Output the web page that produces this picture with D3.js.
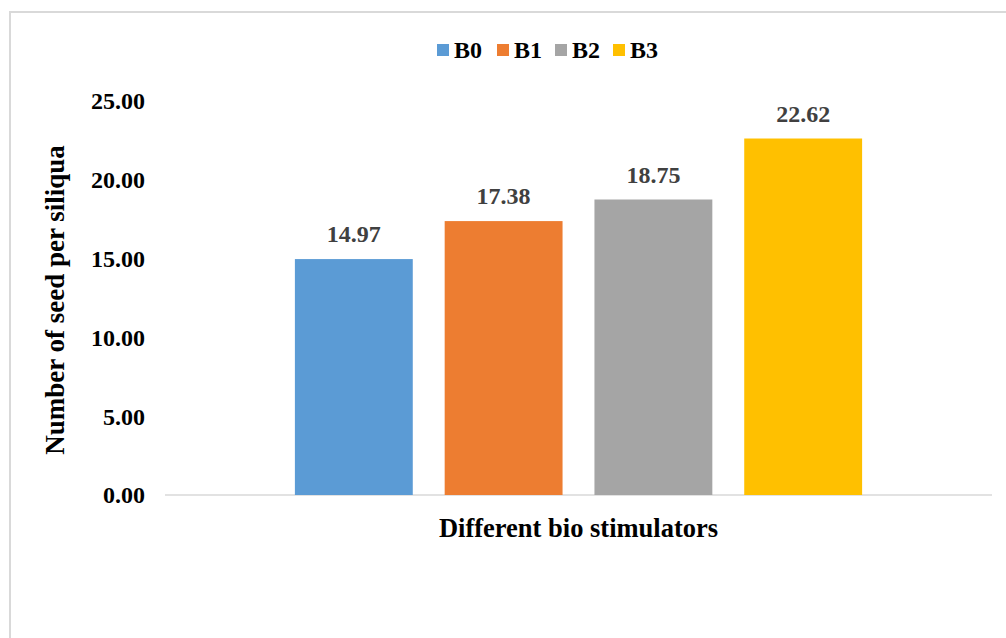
<!DOCTYPE html>
<html>
<head>
<meta charset="utf-8">
<script src="https://cdn.jsdelivr.net/npm/d3@7/dist/d3.min.js"></script>
<style>
  html, body { margin: 0; padding: 0; background: #fff; }
  svg { display: block; }
  text { font-family: "Liberation Serif", "Times New Roman", serif; font-weight: bold; }
</style>
</head>
<body>
<svg id="chart" width="1006" height="638"></svg>
<script>
const categories = ["Different bio stimulators"];
const seriesNames = ["B0", "B1", "B2", "B3"];
const seriesValues = [14.97, 17.38, 18.75, 22.62];
const seriesColors = ["#5b9bd5", "#ed7d31", "#a5a5a5", "#ffc000"];
const yTicks = [0, 5, 10, 15, 20, 25];
const yTitle = "Number of seed per siliqua";

const svg = d3.select("#chart");

// outer frame
svg.append("rect")
  .attr("x", 10).attr("y", 12)
  .attr("width", 1100).attr("height", 700)
  .attr("fill", "none").attr("stroke", "#d9d9d9").attr("stroke-width", 2);

const plot = { left: 165, right: 992, top: 101, bottom: 495 };

const y = d3.scaleLinear().domain([0, 25]).range([plot.bottom, plot.top]);
const x0 = d3.scaleBand().domain(categories).range([plot.left, plot.right])
  .paddingInner(0).paddingOuter(0.229);
const x1 = d3.scaleBand().domain(seriesNames).range([0, x0.bandwidth()]).paddingInner(0.213);

// y tick labels
const yAxis = d3.axisLeft(y).tickValues(yTicks).tickFormat(d3.format(".2f")).tickSize(0).tickPadding(0);
const yg = svg.append("g").attr("transform", `translate(145,0)`).call(yAxis);
yg.select(".domain").remove();
yg.selectAll("text").attr("font-size", 24).attr("fill", "#000")
  .attr("font-family", "Liberation Serif, serif").attr("font-weight", "bold")
  .attr("dy", "0.33em");

// baseline
svg.append("line")
  .attr("x1", plot.left).attr("x2", plot.right)
  .attr("y1", y(0)).attr("y2", y(0))
  .attr("stroke", "#d9d9d9").attr("stroke-width", 1.5);

// bars
const data = seriesNames.map((s, i) => ({ cat: categories[0], s, v: seriesValues[i], c: seriesColors[i] }));
const g = svg.append("g");
g.selectAll("rect.bar").data(data).enter().append("rect")
  .attr("class", "bar")
  .attr("x", d => x0(d.cat) + x1(d.s))
  .attr("y", d => y(d.v))
  .attr("width", x1.bandwidth())
  .attr("height", d => y(0) - y(d.v))
  .attr("fill", d => d.c);

// value labels
g.selectAll("text.val").data(data).enter().append("text")
  .attr("class", "val")
  .attr("x", d => x0(d.cat) + x1(d.s) + x1.bandwidth() / 2)
  .attr("y", d => y(d.v) - 17)
  .attr("text-anchor", "middle")
  .attr("font-size", 24)
  .attr("fill", "#404040")
  .text(d => d.v.toFixed(2));

// x axis title
svg.append("text")
  .attr("x", x0(categories[0]) + x0.bandwidth() / 2)
  .attr("y", 537)
  .attr("text-anchor", "middle")
  .attr("font-size", 26.5)
  .attr("fill", "#000")
  .text(categories[0]);

// y axis title
svg.append("text")
  .attr("transform", `translate(64,300) rotate(-90)`)
  .attr("text-anchor", "middle")
  .attr("font-size", 27)
  .attr("fill", "#000")
  .text(yTitle);

// legend
const legendX = [437, 497, 555, 613];
const lg = svg.append("g");
seriesNames.forEach((s, i) => {
  lg.append("rect").attr("x", legendX[i]).attr("y", 44).attr("width", 12).attr("height", 12).attr("fill", seriesColors[i]);
  lg.append("text").attr("x", legendX[i] + 17).attr("y", 58).attr("font-size", 24).attr("fill", "#000").text(s);
});
</script>
</body>
</html>
